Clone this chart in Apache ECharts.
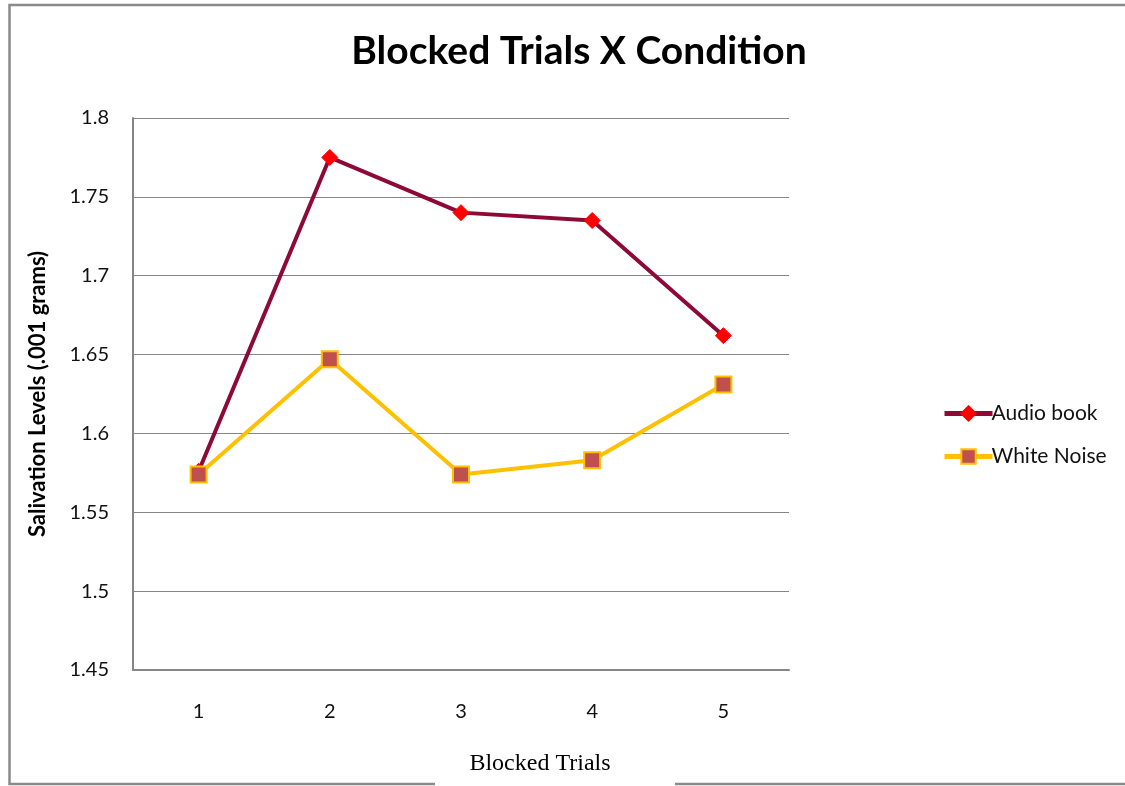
<!DOCTYPE html>
<html>
<head>
<meta charset="utf-8">
<script src="https://cdn.jsdelivr.net/npm/echarts@6/dist/echarts.min.js"></script>
<style>html,body{margin:0;padding:0;background:#fff;}#c{width:1125px;height:786px;}</style>
</head>
<body>
<div id="c"></div>
<script>
const categories = ['1', '2', '3', '4', '5'];
const audioBook = [1.576, 1.775, 1.740, 1.735, 1.662];
const whiteNoise = [1.574, 1.647, 1.574, 1.583, 1.631];
const yTicks = { min: 1.45, max: 1.8, interval: 0.05 };

const chart = echarts.init(document.getElementById('c'));
chart.setOption({
  backgroundColor: '#fff',
  animation: false,
  title: [
    { text: 'Blocked Trials X Condition', left: 574, top: 27, textAlign: 'center',
      textStyle: { fontFamily: 'Lato', fontWeight: 'bold', fontSize: 39, color: '#000' } },
    { text: 'Blocked Trials', left: 535, top: 747, textAlign: 'center',
      textStyle: { fontFamily: 'Liberation Serif', fontWeight: 'normal', fontSize: 24, color: '#000' } }
  ],
  legend: {
    orient: 'vertical', left: 937, top: 398,
    itemWidth: 48, itemHeight: 18, itemGap: 22,
    textStyle: { fontFamily: 'Lato', fontSize: 21, color: '#111', padding: [0, 0, 0, -6] },
    data: [
      { name: 'Audio book', lineStyle: { width: 5 } },
      { name: 'White Noise', lineStyle: { width: 5 } }
    ]
  },
  grid: { left: 133, right: 336, top: 118, bottom: 116, containLabel: false },
  xAxis: {
    type: 'category', data: categories, boundaryGap: true,
    axisLine: { lineStyle: { color: '#868686', width: 2 } },
    axisTick: { show: false },
    axisLabel: { margin: 32, fontFamily: 'Lato', fontSize: 20, color: '#111' }
  },
  yAxis: {
    type: 'value', min: yTicks.min, max: yTicks.max, interval: yTicks.interval,
    name: 'Salivation Levels (.001 grams)', nameLocation: 'middle', nameGap: 84,
    nameTextStyle: { fontFamily: 'Lato', fontWeight: 'bold', fontSize: 22, color: '#000' },
    axisLine: { show: true, lineStyle: { color: '#868686', width: 2 } },
    axisTick: { show: false },
    splitLine: { lineStyle: { color: '#868686', width: 1 } },
    axisLabel: { margin: 24, fontFamily: 'Lato', fontSize: 20, color: '#111',
      formatter: v => String(parseFloat(v.toFixed(2))) }
  },
  series: [
    { name: 'Audio book', type: 'line', data: audioBook,
      lineStyle: { color: '#8E0A36', width: 4 },
      itemStyle: { color: '#FF0000', borderColor: '#FF0000', borderWidth: 1 },
      symbol: 'diamond', symbolSize: 16, z: 2 },
    { name: 'White Noise', type: 'line', data: whiteNoise,
      lineStyle: { color: '#FFC000', width: 4 },
      itemStyle: { color: '#C0504D', borderColor: '#FFC000', borderWidth: 2 },
      symbol: 'rect', symbolSize: 16, z: 3 }
  ],
  graphic: [
    { type: 'polyline', shape: { points: [[1125, 5], [9.5, 5], [9.5, 784], [435, 784]] },
      style: { stroke: '#8a8a8a', lineWidth: 2.5, fill: null }, silent: true },
    { type: 'line', shape: { x1: 675, y1: 784, x2: 1125, y2: 784 },
      style: { stroke: '#8a8a8a', lineWidth: 2.5 }, silent: true }
  ]
});
</script>
</body>
</html>
